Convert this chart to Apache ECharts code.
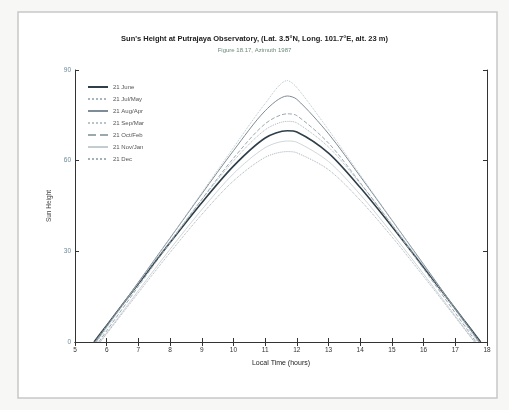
<!DOCTYPE html>
<html>
<head>
<meta charset="utf-8">
<script src="https://cdn.jsdelivr.net/npm/echarts@6/dist/echarts.min.js"></script>
<style>
  html, body { margin: 0; padding: 0; background: #f7f7f5; }
  #chart { width: 509px; height: 410px; }
</style>
</head>
<body>
<div id="chart"></div>
<script>
// hours read along the x axis (local time)
var hours = [6, 7, 8, 9, 10, 11, 11.7, 12, 13, 14, 15, 16, 17, 17.5]
var months = ['21 June', '21 Jul/May', '21 Aug/Apr', '21 Sep/Mar', '21 Oct/Feb', '21 Nov/Jan', '21 Dec']
var sunrise = [5.6, 5.62, 5.66, 5.7, 5.75, 5.78, 5.8]
var sunset = [17.8, 17.78, 17.74, 17.7, 17.65, 17.62, 17.6]

// sun height in degrees, one list per date
var june = [5.5, 19.3, 32.9, 46.1, 58.2, 67.5, 69.9, 69.5, 62.5, 51.1, 38.2, 24.7, 11.0, 4.1]
var julMay = [5.4, 19.5, 33.4, 47.1, 59.9, 70.2, 73.0, 72.5, 64.5, 52.4, 39.0, 25.1, 11.1, 4.0]
var augApr = [5.1, 19.8, 34.4, 49.0, 63.3, 76.5, 81.4, 80.3, 68.9, 54.8, 40.3, 25.7, 11.0, 3.7]
var sepMar = [4.5, 19.5, 34.4, 49.4, 64.3, 78.9, 86.5, 84.2, 70.2, 55.3, 40.4, 25.4, 10.5, 3.0]
var octFeb = [3.7, 18.4, 32.9, 47.2, 60.8, 72.2, 75.5, 74.9, 65.8, 52.7, 38.7, 24.2, 9.6, 2.3]
var novJan = [3.0, 17.0, 30.7, 43.8, 55.7, 64.3, 66.5, 66.1, 59.7, 48.8, 36.0, 22.5, 8.6, 1.6]
var dec = [2.7, 16.3, 29.6, 42.2, 53.3, 61.1, 63.0, 62.6, 57.0, 46.9, 34.8, 21.7, 8.2, 1.4]

var heights = [june, julMay, augApr, sepMar, octFeb, novJan, dec]
var styles = [
  { color: '#2f3f4a', type: 'solid', width: 1.6 },
  { color: '#a9b6bd', type: 'dotted', width: 1 },
  { color: '#7d8c96', type: 'solid', width: 1 },
  { color: '#b9c4ca', type: 'dotted', width: 1 },
  { color: '#9aa8b0', type: 'dashed', width: 1 },
  { color: '#c3ccd1', type: 'solid', width: 0.8 },
  { color: '#a3b0b8', type: 'dotted', width: 1 }
]

var chart = echarts.init(document.getElementById('chart'))

var series = months.map(function (name, i) {
  var pts = [[sunrise[i], 0]]
  hours.forEach(function (h, k) { pts.push([h, heights[i][k]]) })
  pts.push([sunset[i], 0])
  return {
    name: name,
    type: 'line',
    data: pts,
    smooth: 0.3,
    symbol: 'none',
    lineStyle: styles[i],
    itemStyle: { color: styles[i].color }
  }
})

var tickStyle = { inside: true, length: 4, lineStyle: { color: '#333' } }
var lineStyle = { lineStyle: { color: '#333', width: 1 } }

chart.setOption({
  animation: false,
  textStyle: { fontFamily: 'Liberation Sans, Arial, sans-serif' },
  graphic: [{
    type: 'rect',
    shape: { x: 18, y: 12, width: 479, height: 386 },
    style: { fill: '#ffffff', stroke: '#c8c8c8', lineWidth: 1.5 },
    z: -10
  }],
  title: {
    text: "Sun's Height at Putrajaya Observatory, (Lat. 3.5°N, Long. 101.7°E, alt. 23 m)",
    subtext: 'Figure 18.17, Azimuth 1987',
    left: 'center',
    top: 30,
    itemGap: 4,
    textStyle: { fontSize: 7.5, fontWeight: 'bold', color: '#222' },
    subtextStyle: { fontSize: 6, color: '#6a8a7a' }
  },
  legend: {
    orient: 'vertical',
    left: 82,
    top: 79,
    itemWidth: 20,
    itemHeight: 6,
    itemGap: 6,
    itemStyle: { opacity: 0 },
    textStyle: { fontSize: 6, color: '#555' },
    data: months
  },
  grid: { left: 75, right: 22, top: 70, bottom: 68 },
  xAxis: [{
    type: 'value',
    min: 5,
    max: 18,
    interval: 1,
    name: 'Local Time (hours)',
    nameLocation: 'middle',
    nameGap: 18,
    nameTextStyle: { fontSize: 7, color: '#222' },
    axisLine: lineStyle,
    axisTick: tickStyle,
    axisLabel: { fontSize: 6.5, color: '#333', margin: 5 },
    splitLine: { show: false }
  }, {
    type: 'value',
    position: 'top',
    min: 5,
    max: 18,
    interval: 1,
    axisLine: lineStyle,
    axisTick: tickStyle,
    axisLabel: { show: false },
    splitLine: { show: false }
  }],
  yAxis: [{
    type: 'value',
    min: 0,
    max: 90,
    interval: 30,
    name: 'Sun Height',
    nameLocation: 'middle',
    nameGap: 20,
    nameTextStyle: { fontSize: 6.5, color: '#444' },
    axisLine: lineStyle,
    axisTick: tickStyle,
    axisLabel: { fontSize: 6.5, color: '#6a8a9a', margin: 4 },
    splitLine: { show: false }
  }, {
    type: 'value',
    position: 'right',
    min: 0,
    max: 90,
    interval: 30,
    axisLine: lineStyle,
    axisTick: tickStyle,
    axisLabel: { show: false },
    splitLine: { show: false }
  }],
  series: series
})
</script>
</body>
</html>
